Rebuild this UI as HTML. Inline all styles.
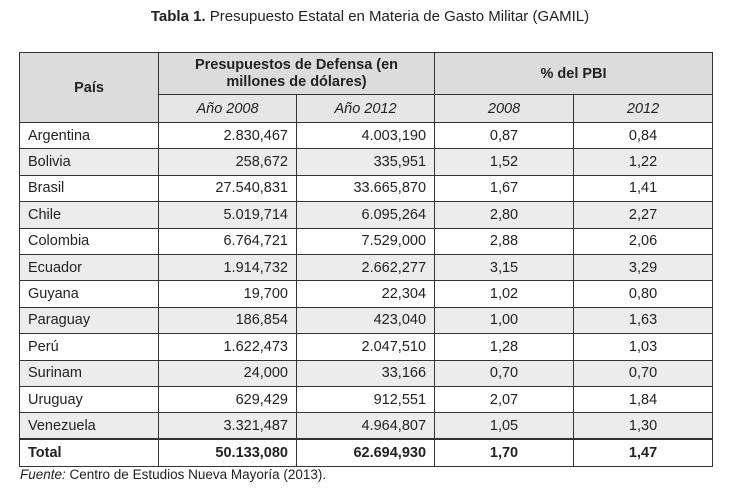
<!DOCTYPE html>
<html><head><meta charset="utf-8"><style>
body{margin:0;width:740px;height:491px;background:#fff;font-family:"Liberation Sans",sans-serif;color:#222;position:relative;overflow:hidden}
.title{position:absolute;top:8px;left:0;width:740px;text-align:center;font-size:15px}
table{position:absolute;left:19px;top:52px;border-collapse:collapse;table-layout:fixed;width:693px;font-size:14.5px}
td,th{border:1px solid #333;padding:0 8px;height:26.4px;box-sizing:border-box}
th{background:#dcdcdc;font-weight:bold;text-align:center}
th.sub{font-weight:normal;font-style:italic;background:#e6e6e6;height:28px}
td.n{text-align:right}
td.c{text-align:center}
tr.alt td{background:#ececec}
tr.total td{font-weight:bold;border-top:2px solid #333;height:27px}
.src{position:absolute;left:20px;top:467px;font-size:13.5px}
</style></head><body>
<div class="title"><b>Tabla 1.</b> Presupuesto Estatal en Materia de Gasto Militar (GAMIL)</div>
<table>
<colgroup><col style="width:139px"><col style="width:138px"><col style="width:138px"><col style="width:139px"><col style="width:139px"></colgroup>
<tr style="height:42px"><th rowspan="2">País</th><th colspan="2" style="line-height:17px">Presupuestos de Defensa (en<br>millones de dólares)</th><th colspan="2">% del PBI</th></tr>
<tr><th class="sub">Año 2008</th><th class="sub">Año 2012</th><th class="sub">2008</th><th class="sub">2012</th></tr>
<tr><td>Argentina</td><td class="n">2.830,467</td><td class="n">4.003,190</td><td class="c">0,87</td><td class="c">0,84</td></tr>
<tr class="alt"><td>Bolivia</td><td class="n">258,672</td><td class="n">335,951</td><td class="c">1,52</td><td class="c">1,22</td></tr>
<tr><td>Brasil</td><td class="n">27.540,831</td><td class="n">33.665,870</td><td class="c">1,67</td><td class="c">1,41</td></tr>
<tr class="alt"><td>Chile</td><td class="n">5.019,714</td><td class="n">6.095,264</td><td class="c">2,80</td><td class="c">2,27</td></tr>
<tr><td>Colombia</td><td class="n">6.764,721</td><td class="n">7.529,000</td><td class="c">2,88</td><td class="c">2,06</td></tr>
<tr class="alt"><td>Ecuador</td><td class="n">1.914,732</td><td class="n">2.662,277</td><td class="c">3,15</td><td class="c">3,29</td></tr>
<tr><td>Guyana</td><td class="n">19,700</td><td class="n">22,304</td><td class="c">1,02</td><td class="c">0,80</td></tr>
<tr class="alt"><td>Paraguay</td><td class="n">186,854</td><td class="n">423,040</td><td class="c">1,00</td><td class="c">1,63</td></tr>
<tr><td>Perú</td><td class="n">1.622,473</td><td class="n">2.047,510</td><td class="c">1,28</td><td class="c">1,03</td></tr>
<tr class="alt"><td>Surinam</td><td class="n">24,000</td><td class="n">33,166</td><td class="c">0,70</td><td class="c">0,70</td></tr>
<tr><td>Uruguay</td><td class="n">629,429</td><td class="n">912,551</td><td class="c">2,07</td><td class="c">1,84</td></tr>
<tr class="alt"><td>Venezuela</td><td class="n">3.321,487</td><td class="n">4.964,807</td><td class="c">1,05</td><td class="c">1,30</td></tr>
<tr class="total"><td>Total</td><td class="n">50.133,080</td><td class="n">62.694,930</td><td class="c">1,70</td><td class="c">1,47</td></tr>
</table>
<div class="src"><i>Fuente:</i> Centro de Estudios Nueva Mayoría (2013).</div>
</body></html>
